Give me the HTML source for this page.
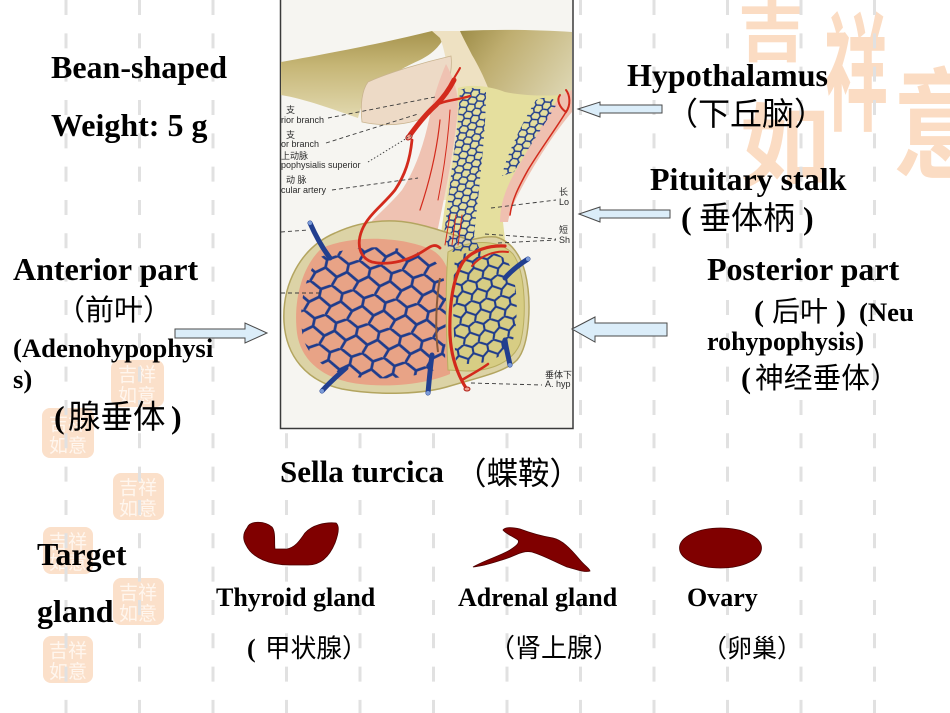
<!DOCTYPE html>
<html><head><meta charset="utf-8"><title>Pituitary gland</title>
<style>
html,body{margin:0;padding:0;background:#ffffff;}
body{width:950px;height:713px;overflow:hidden;position:relative;}
svg{position:absolute;left:0;top:0;display:block;}
.en{font-family:"Liberation Serif","Noto Sans CJK SC",serif;font-weight:bold;fill:#000;}
.cn{font-family:"Liberation Sans","Noto Sans CJK SC",sans-serif;font-weight:normal;fill:#000;}
.lb{font-family:"Liberation Sans","Noto Sans CJK SC",sans-serif;font-size:9px;fill:#2a2a2a;}
.wm{font-family:"Liberation Sans","Noto Sans CJK SC",sans-serif;font-weight:bold;fill:#fbdcc3;}
.st{font-family:"Liberation Sans","Noto Sans CJK SC",sans-serif;font-size:19px;fill:#fff6ee;}
</style></head><body>
<svg width="950" height="713" viewBox="0 0 950 713" xmlns="http://www.w3.org/2000/svg">
<defs>
  <linearGradient id="khL" x1="0" y1="0" x2="0" y2="1">
    <stop offset="0" stop-color="#a6944e"/>
    <stop offset="0.4" stop-color="#c6b676"/>
    <stop offset="1" stop-color="#e2d9b0"/>
  </linearGradient>
  <linearGradient id="khR" x1="0" y1="0" x2="1" y2="0.6">
    <stop offset="0" stop-color="#9d8c47"/>
    <stop offset="0.35" stop-color="#bfae70"/>
    <stop offset="1" stop-color="#ddd6b2"/>
  </linearGradient>
  <pattern id="netA" width="22" height="30" patternUnits="userSpaceOnUse" patternTransform="rotate(12)">
    <path d="M10,0 L22,6 L22,14 L13,21 L0,14 L0,6 Z M13,21 L10,30" fill="none" stroke="#1f3c8c" stroke-width="2.7" stroke-linejoin="round"/>
  </pattern>
  <pattern id="netP" width="15" height="21" patternUnits="userSpaceOnUse" patternTransform="rotate(-10)">
    <path d="M7,0 L15,4 L15,10 L9,15 L0,10 L0,4 Z M9,15 L7,21" fill="none" stroke="#1f3c8c" stroke-width="2.1" stroke-linejoin="round"/>
  </pattern>
  <pattern id="netS" width="9" height="12" patternUnits="userSpaceOnUse" patternTransform="rotate(-20)">
    <path d="M4.5,0 L9,2.5 L9,6 L5.5,8.5 L0,6 L0,2.5 Z M5.5,8.5 L4.5,12" fill="none" stroke="#1f3c8c" stroke-width="1.5" stroke-linejoin="round"/>
  </pattern>
  <clipPath id="box"><rect x="281" y="0" width="291" height="428"/></clipPath>
</defs>

<!-- big watermark -->
<g class="wm">
  <text x="738" y="56" font-size="68">吉</text>
  <text transform="translate(824,120) scale(1,2)" font-size="64">祥</text>
  <text x="740" y="178" font-size="90">如</text>
  <text transform="translate(893,168) scale(1,1.25)" font-size="95">意</text>
</g>

<!-- small stamps -->
<g>
  <rect x="111" y="360" width="53" height="47" rx="8" fill="#fbe0ca"/>
  <rect x="42" y="408" width="52" height="50" rx="8" fill="#fbe0ca"/>
  <rect x="113" y="473" width="51" height="47" rx="8" fill="#fbe0ca"/>
  <rect x="43" y="527" width="50" height="47" rx="8" fill="#fbe0ca"/>
  <rect x="113" y="578" width="51" height="47" rx="8" fill="#fbe0ca"/>
  <rect x="43" y="636" width="50" height="47" rx="8" fill="#fbe0ca"/>
</g>
<g class="st">
  <text x="118" y="381">吉祥</text><text x="118" y="402">如意</text>
  <text x="49" y="430">吉祥</text><text x="49" y="452">如意</text>
  <text x="119" y="494">吉祥</text><text x="119" y="515">如意</text>
  <text x="49" y="548">吉祥</text><text x="49" y="569">如意</text>
  <text x="119" y="599">吉祥</text><text x="119" y="620">如意</text>
  <text x="49" y="657">吉祥</text><text x="49" y="678">如意</text>
</g>

<!-- dashed grid lines -->
<g stroke="#e1e1e1" stroke-width="3" stroke-dasharray="15 18.33">
  <line x1="66" y1="0" x2="66" y2="713"/>
  <line x1="139.5" y1="0" x2="139.5" y2="713"/>
  <line x1="213" y1="0" x2="213" y2="713"/>
  <line x1="286.5" y1="0" x2="286.5" y2="713"/>
  <line x1="360" y1="0" x2="360" y2="713"/>
  <line x1="433.5" y1="0" x2="433.5" y2="713"/>
  <line x1="507" y1="0" x2="507" y2="713"/>
  <line x1="580.5" y1="0" x2="580.5" y2="713"/>
  <line x1="654" y1="0" x2="654" y2="713"/>
  <line x1="727.5" y1="0" x2="727.5" y2="713"/>
  <line x1="801" y1="0" x2="801" y2="713"/>
  <line x1="874.5" y1="0" x2="874.5" y2="713"/>
</g>

<!-- ============ anatomical picture ============ -->
<rect x="280.5" y="-2" width="292.5" height="430.5" fill="#f6f5f1" stroke="#3a3a3a" stroke-width="1.5"/>
<g clip-path="url(#box)">
  <path d="M281,62 C320,55 380,44 432,31 L446,33 C441,46 432,54 420,60 C398,70 378,82 368,94 C362,103 360,110 358,118 C335,110 305,99 281,95 Z" fill="url(#khL)"/>
  <path d="M432,31 L462,31 C478,60 492,95 502,124 L498,200 L440,200 C446,160 452,120 450,90 C448,70 445,50 440,38 Z" fill="#eee1c2"/>
  <path d="M460,31 C500,29 540,30 573,32 L573,93 C550,99 528,108 512,117 C506,120 502,123 500,125 C494,100 484,75 472,55 C467,45 463,38 460,31 Z" fill="url(#khR)"/>
  <path d="M362,122 C360,105 362,90 368,82 C390,72 425,62 451,56 C453,72 447,95 435,110 C420,124 390,128 362,122 Z" fill="#eddac6" stroke="#c9b48f" stroke-width="0.8"/>
  <path d="M446,64 C452,75 458,90 458,105 C456,140 446,190 436,238 L358,238 C368,222 385,210 402,190 C415,170 424,145 430,115 C434,95 440,78 446,64 Z" fill="#efc2b2"/>
  <path d="M458,88 C470,84 490,86 505,92 C525,96 548,96 566,95 L572,96 L572,104 C555,120 535,148 520,170 C508,188 502,205 503,222 L505,240 L440,245 C443,210 452,170 456,140 C458,120 458,100 458,88 Z" fill="#e5df9e"/>
  <path d="M560,96 L572,90 L572,112 C558,128 540,155 526,180 C516,198 510,210 508,222 L500,222 C500,205 505,190 515,172 C528,150 545,118 560,96 Z" fill="#efc0b0"/>
  <path d="M460,90 C470,86 480,88 486,92 C486,130 480,180 474,236 L444,236 C448,200 454,150 458,120 Z" fill="url(#netS)"/>
  <path d="M536,100 C545,96 552,98 558,102 C548,120 530,145 514,172 L502,176 C505,160 518,130 536,100 Z" fill="url(#netS)"/>

  <path d="M335,233 C300,248 282,285 284,322 C286,356 306,381 342,389 C380,396 425,394 450,386 C480,377 505,372 517,360 C530,345 532,300 525,272 C519,250 507,240 496,237 C488,236 480,238 470,240 C450,234 420,222 395,221 C372,220 352,225 335,233 Z" fill="#dcd3a6" stroke="#b3a560" stroke-width="1.5"/>
  <path d="M322,248 C302,266 293,300 297,333 C301,362 325,380 360,384 C395,388 428,383 450,374 L452,300 C452,275 446,258 432,250 C405,237 355,234 322,248 Z" fill="#e8a386"/>
  <path d="M448,252 C468,240 498,238 513,254 C526,272 527,320 520,344 C512,362 492,371 466,371 L448,370 C446,330 445,290 448,252 Z" fill="#d7cd84" stroke="#b9ae60" stroke-width="1"/>
  <path d="M444,236 L474,236 L480,250 L450,252 Z" fill="url(#netS)"/>
  <path d="M318,258 C303,280 298,310 303,338 C310,362 335,376 365,378 C398,380 425,375 445,366 L446,300 C446,278 440,262 428,256 C400,244 350,244 318,258 Z" fill="url(#netA)"/>
  <path d="M455,258 C472,248 496,248 508,262 C518,280 519,318 513,340 C506,356 490,364 468,364 L456,362 C453,330 452,290 455,258 Z" fill="url(#netP)"/>
  <path d="M440,278 C436,300 435,330 438,352" stroke="#8a5a3a" stroke-width="2" fill="none"/>

  <g stroke="#223f8f" stroke-linecap="round" fill="none" stroke-width="5">
    <path d="M310,223 C314,232 320,245 330,258"/>
    <path d="M322,391 C330,382 338,375 346,368"/>
    <path d="M428,393 C429,382 430,370 432,355"/>
    <path d="M528,259 C520,264 512,270 505,278"/>
    <path d="M510,365 C508,355 506,348 505,340"/>
  </g>
  <g fill="#7b9bd8">
    <circle cx="310" cy="223" r="2"/><circle cx="322" cy="391" r="2"/>
    <circle cx="428" cy="393" r="2"/><circle cx="528" cy="259" r="2"/>
    <circle cx="510" cy="365" r="2"/>
  </g>

  <g stroke="#d32a1c" fill="none" stroke-linecap="round">
    <path d="M410,135 C418,124 428,112 436,105 C444,97 450,88 454,80" stroke-width="5"/>
    <path d="M436,105 C445,100 458,100 470,96" stroke-width="2.5"/>
    <path d="M452,82 C455,76 458,72 460,68" stroke-width="2"/>
    <path d="M412,140 C410,160 405,175 395,190 C383,205 368,215 362,230 C356,245 360,258 372,262 C390,266 410,260 425,250 C432,245 436,244 440,248" stroke-width="2.8"/>
    <path d="M505,246 C490,245 472,250 463,262 C453,278 449,305 450,335 C451,355 456,372 466,388" stroke-width="3.2"/>
    <path d="M508,252 C495,250 480,256 472,266" stroke-width="2"/>
    <path d="M462,380 C470,375 480,370 488,364" stroke-width="2.5"/>
    <path d="M566,90 C570,95 571,105 566,112 C560,108 556,100 560,95" stroke-width="2"/>
    <path d="M566,112 C555,130 540,150 528,170 C518,188 512,200 510,215" stroke-width="1.5"/>
    <path d="M440,120 C437,150 430,180 420,210" stroke-width="1.2"/>
    <path d="M450,110 C448,140 444,170 438,200" stroke-width="1"/>
    <path d="M450,215 L445,245 M456,215 L452,245 M462,215 L458,245" stroke-width="1"/>
  </g>
  <ellipse cx="409" cy="137" rx="3.5" ry="2.5" fill="#f1a090" stroke="#b02018" stroke-width="1" transform="rotate(-40 409 137)"/>
  <ellipse cx="467" cy="389" rx="3" ry="2" fill="#f1a090" stroke="#b02018" stroke-width="1"/>

  <g stroke="#3a3a3a" stroke-width="0.9" stroke-dasharray="4 3" fill="none">
    <line x1="328" y1="118" x2="435" y2="97"/>
    <line x1="326" y1="143" x2="418" y2="114"/>
    <line x1="368" y1="162" x2="412" y2="135" stroke-dasharray="1.5 2"/>
    <line x1="332" y1="190" x2="418" y2="178"/>
    <line x1="281" y1="232" x2="308" y2="230"/>
    <line x1="281" y1="293" x2="322" y2="293"/>
    <line x1="491" y1="208" x2="556" y2="200"/>
    <line x1="485" y1="234" x2="556" y2="239"/>
    <line x1="498" y1="243" x2="556" y2="240"/>
    <line x1="471" y1="383" x2="542" y2="385"/>
  </g>
  <text class="lb" x="286" y="113">支</text>
  <text class="lb" x="281" y="123">rior branch</text>
  <text class="lb" x="286" y="138">支</text>
  <text class="lb" x="281" y="147">or branch</text>
  <text class="lb" x="281" y="159">上动脉</text>
  <text class="lb" x="281" y="168">pophysialis superior</text>
  <text class="lb" x="286" y="183">动 脉</text>
  <text class="lb" x="281" y="193">cular artery</text>
  <text class="lb" x="559" y="195">长</text>
  <text class="lb" x="559" y="205">Lo</text>
  <text class="lb" x="559" y="233">短</text>
  <text class="lb" x="559" y="243">Sh</text>
  <text class="lb" x="545" y="378">垂体下</text>
  <text class="lb" x="545" y="387">A. hyp</text>
</g>

<g fill="#dbedf9" stroke="#4a4a4a" stroke-width="1" stroke-linejoin="miter">
  <polygon points="578,109 600,102 600,105 662,105 662,113 600,113 600,117"/>
  <polygon points="579,214 600,207 600,210 670,210 670,218 600,218 600,222"/>
  <polygon points="572,329 595,317 595,323 667,323 667,336 595,336 595,342"/>
  <polygon points="175,329 245,329 245,323 267,333 245,343 245,338 175,338"/>
</g>

<path d="M247,528 C250,520 265,521 272,527 C276,532 274,543 275,549 L287,549 C296,547 300,540 305,533 C312,525 325,522 336,523 C340,526 338,535 335,543 C330,555 322,565 308,565 L290,565 C270,565 252,558 246,545 C242,538 244,532 247,528 Z" fill="#800000" stroke="#4a0000" stroke-width="0.8"/>
<path d="M473,567 C485,560 500,556 510,550 C516,546 520,543 518,540 C512,536 505,533 503,530 C505,527 512,527 520,529 C528,532 540,536 553,538 C562,540 570,548 580,560 C585,566 590,569 590,571 C585,573 575,569 567,567 C555,562 545,556 532,552 C522,550 515,556 505,559 C495,562 485,566 473,567 Z" fill="#800000" stroke="#4a0000" stroke-width="0.8"/>
<ellipse cx="720.5" cy="548" rx="41" ry="20" fill="#800000" stroke="#4a0000" stroke-width="0.8"/>

<text class="en" x="51" y="78" font-size="32">Bean-shaped</text>
<text class="en" x="51" y="136" font-size="32">Weight: 5 g</text>

<text class="en" x="627" y="86" font-size="32">Hypothalamus</text>
<text class="cn" x="666" y="125" font-size="32">（下丘脑）</text>

<text class="en" x="650" y="190" font-size="32">Pituitary stalk</text>
<text y="229" font-size="32"><tspan class="en" x="681">(</tspan><tspan class="cn" x="699">垂体柄</tspan><tspan class="en" x="803">)</tspan></text>

<text class="en" x="13" y="280" font-size="32">Anterior part</text>
<text class="cn" x="56" y="320" font-size="29">（前叶）</text>
<text class="en" x="13" y="357" font-size="26.7">(Adenohypophysi</text>
<text class="en" x="13" y="388" font-size="26.7">s)</text>
<text y="428"><tspan class="en" x="54" font-size="32">(</tspan><tspan class="cn" x="68" font-size="32.5">腺垂体</tspan><tspan class="en" x="171" font-size="32">)</tspan></text>

<text class="en" x="707" y="280" font-size="32">Posterior part</text>
<text y="321"><tspan class="en" x="754" font-size="30">(</tspan><tspan class="cn" x="772" font-size="28">后叶</tspan><tspan class="en" x="836" font-size="30">)</tspan><tspan class="en" x="859" font-size="26.7">(Neu</tspan></text>
<text class="en" x="707" y="350" font-size="26">rohypophysis)</text>
<text y="388"><tspan class="en" x="741" font-size="30">(</tspan><tspan class="cn" x="755" font-size="28.75">神经垂体）</tspan></text>

<text class="en" x="280" y="482" font-size="31">Sella turcica</text>
<text class="cn" x="455" y="484" font-size="31.5">（蝶鞍）</text>

<text class="en" x="37" y="565" font-size="32">Target</text>
<text class="en" x="37" y="622" font-size="32">gland</text>

<text class="en" x="216" y="606" font-size="26">Thyroid gland</text>
<text y="657"><tspan class="en" x="247" font-size="26">(</tspan><tspan class="cn" x="265" font-size="25.7">甲状腺）</tspan></text>

<text class="en" x="458" y="606" font-size="26">Adrenal gland</text>
<text class="cn" x="489" y="657" font-size="26">（肾上腺）</text>

<text class="en" x="687" y="606" font-size="26">Ovary</text>
<text class="cn" x="702" y="657" font-size="25">（卵巢）</text>
</svg>
</body></html>
